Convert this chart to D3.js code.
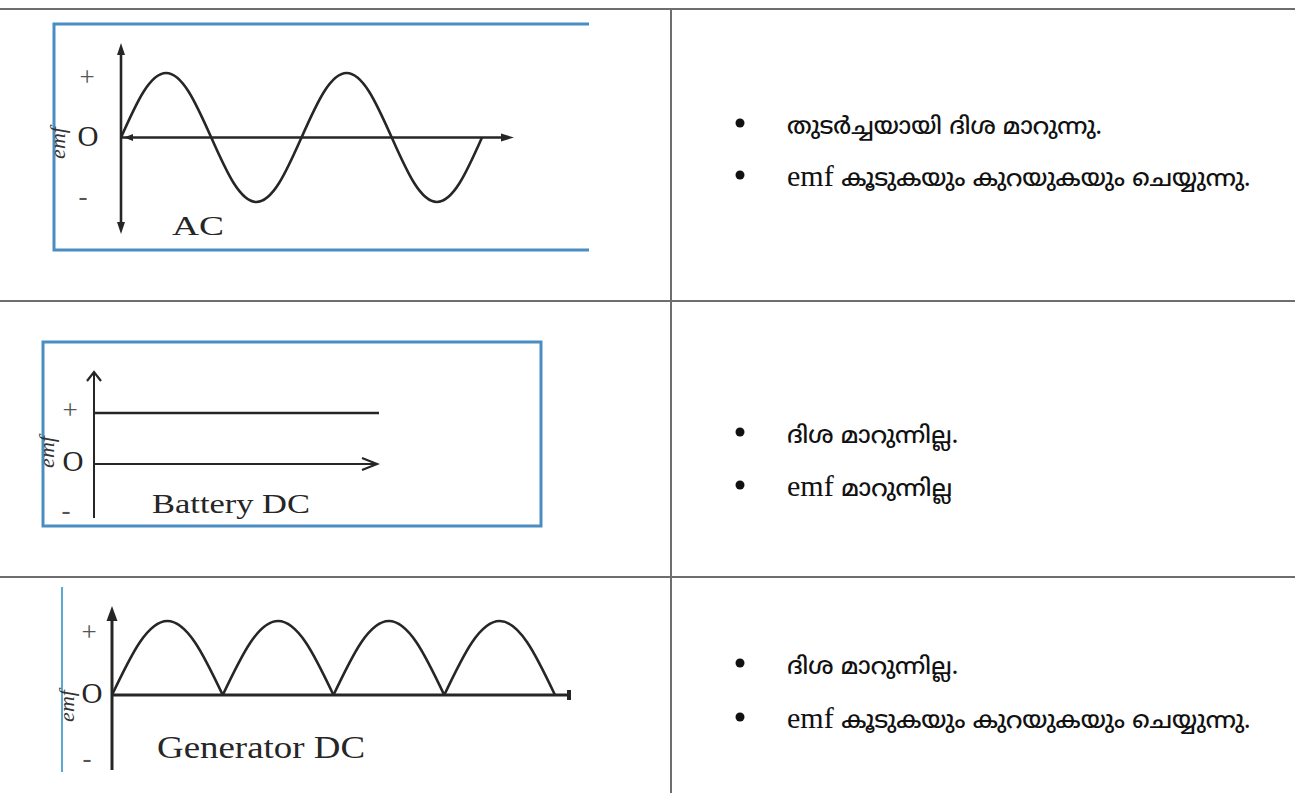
<!DOCTYPE html>
<html>
<head>
<meta charset="utf-8">
<script src="https://cdn.jsdelivr.net/npm/d3@7"></script>
<style>
  html, body { margin: 0; padding: 0; background: #fff; }
  svg { display: block; }
</style>
</head>
<body>
<svg id="chart" width="1295" height="793"></svg>
<script>
// ---- data ----
// emf samples, phase in eighths of a cycle
const acPhase = [0, 1, 2, 3, 4, 5, 6, 7, 8, 9, 10, 11, 12, 13, 14, 15, 16];
const acEmf = [0, 0.71, 1, 0.71, 0, -0.71, -1, -0.71, 0, 0.71, 1, 0.71, 0, -0.71, -1, -0.71, 0];

const batteryPhase = [0, 1];
const batteryEmf = [1, 1];

// rectified output: four humps, phase in eighths of a cycle
const generatorPhase = [0, 1, 2, 3, 4, 5, 6, 7, 8, 9, 10, 11, 12, 13, 14, 15, 16];
const generatorEmf = [0, 0.71, 1, 0.71, 0, 0.71, 1, 0.71, 0, 0.71, 1, 0.71, 0, 0.71, 1, 0.71, 0];
const generatorHumps = [0, 1, 2, 3];

const levelLabels = ["+", "O", "-"];
const panelTitles = ["AC", "Battery DC", "Generator DC"];
const axisTitle = "emf";

const notes = [
  ["തുടർച്ചയായി ദിശ മാറുന്നു.", "emf കൂടുകയും കുറയുകയും ചെയ്യുന്നു."],
  ["ദിശ മാറുന്നില്ല.", "emf മാറുന്നില്ല"],
  ["ദിശ മാറുന്നില്ല.", "emf കൂടുകയും കുറയുകയും ചെയ്യുന്നു."]
];

// ---- drawing ----
const svg = d3.select("#chart");
const ink = "#262626";
const blue = "#4a8dc2";
const serif = "'Liberation Serif', 'Times New Roman', serif";

// table grid
const grid = svg.append("g").attr("stroke", "#6e6e6e").attr("stroke-width", 2);
[9, 301, 577].forEach(y => grid.append("line").attr("x1", 0).attr("x2", 1295).attr("y1", y).attr("y2", y));
grid.append("line").attr("x1", 671).attr("x2", 671).attr("y1", 9).attr("y2", 793);

const line = (x, y) => d3.line().x(d => x(d[0])).y(d => y(d[1]));

function filledHead(g, x, y, dir, w, h) {
  // triangle with its tip at (x,y), pointing in direction dir
  let pts;
  if (dir === "up") pts = [[x, y], [x - w / 2, y + h], [x + w / 2, y + h]];
  if (dir === "down") pts = [[x, y], [x - w / 2, y - h], [x + w / 2, y - h]];
  if (dir === "right") pts = [[x, y], [x - h, y - w / 2], [x - h, y + w / 2]];
  if (dir === "left") pts = [[x, y], [x + h, y - w / 2], [x + h, y + w / 2]];
  g.append("path").attr("d", "M" + pts.join("L") + "Z").attr("fill", ink).attr("stroke", "none");
}
function openHead(g, x, y, dir, w, h) {
  let d;
  if (dir === "up") d = `M${x - w / 2},${y + h}L${x},${y}L${x + w / 2},${y + h}`;
  if (dir === "right") d = `M${x - h},${y - w / 2}L${x},${y}L${x - h},${y + w / 2}`;
  g.append("path").attr("d", d).attr("fill", "none").attr("stroke", ink).attr("stroke-width", 2.2);
}

function labels(g, cfg) {
  const lab = g.append("g").attr("font-family", serif).attr("text-anchor", "middle");
  lab.append("text").attr("x", cfg.plus[0]).attr("y", cfg.plus[1]).attr("dy", "0.35em")
    .attr("font-size", 27).attr("fill", "#555").text(levelLabels[0]);
  lab.append("text").attr("x", cfg.zero[0]).attr("y", cfg.zero[1]).attr("dy", "0.35em")
    .attr("font-size", 29).attr("fill", ink).text(levelLabels[1]);
  lab.append("text").attr("x", cfg.minus[0]).attr("y", cfg.minus[1]).attr("dy", "0.35em")
    .attr("font-size", 27).attr("fill", "#555").text(levelLabels[2]);
  lab.append("text")
    .attr("transform", `translate(${cfg.emf[0]},${cfg.emf[1]}) rotate(-90)`)
    .attr("dy", "0.35em").attr("font-size", 22).attr("font-style", "italic")
    .attr("fill", "#333").text(axisTitle);
  lab.append("text").attr("x", cfg.title[0]).attr("y", cfg.title[1]).attr("text-anchor", "start")
    .attr("font-size", cfg.titleSize).attr("fill", ink)
    .attr("textLength", cfg.titleWidth).attr("lengthAdjust", "spacingAndGlyphs")
    .text(cfg.titleText);
}

// ---- AC panel ----
{
  const g = svg.append("g");
  const x = d3.scaleLinear().domain([0, 16]).range([121, 482]);
  const y = d3.scaleLinear().domain([-1, 1]).range([202, 73]);
  // frame, open on the right
  g.append("path").attr("d", `M589,24H54V250H589`).attr("fill", "none")
    .attr("stroke", blue).attr("stroke-width", 3);
  const ax = g.append("g").attr("stroke", ink).attr("stroke-width", 2.6);
  ax.append("line").attr("x1", x(0)).attr("x2", x(0)).attr("y1", 50).attr("y2", 228);
  ax.append("line").attr("x1", x(0)).attr("x2", 505).attr("y1", y(0)).attr("y2", y(0));
  filledHead(g, x(0), 43, "up", 8, 12);
  filledHead(g, x(0), 234, "down", 8, 12);
  filledHead(g, 514, y(0), "right", 8, 13);
  filledHead(g, x(0) + 3, y(0), "left", 7, 9);
  g.append("path").datum(d3.zip(acPhase, acEmf))
    .attr("d", line(x, y).curve(d3.curveNatural))
    .attr("fill", "none").attr("stroke", ink).attr("stroke-width", 2.6);
  labels(g, { plus: [87, 77], zero: [88, 136], minus: [83, 196], emf: [57, 143],
              title: [172, 235], titleSize: 28, titleWidth: 52, titleText: panelTitles[0] });
}

// ---- Battery DC panel ----
{
  const g = svg.append("g");
  const x = d3.scaleLinear().domain([0, 1]).range([94, 379]);
  const y = d3.scaleLinear().domain([-1, 1]).range([515, 413]);
  g.append("rect").attr("x", 43).attr("y", 342).attr("width", 498).attr("height", 184)
    .attr("fill", "none").attr("stroke", blue).attr("stroke-width", 3);
  const ax = g.append("g").attr("stroke", ink).attr("stroke-width", 2);
  ax.append("line").attr("x1", x(0)).attr("x2", x(0)).attr("y1", 372).attr("y2", 518);
  ax.append("line").attr("x1", x(0)).attr("x2", 377).attr("y1", y(0)).attr("y2", y(0));
  openHead(g, x(0), 372, "up", 14, 9);
  openHead(g, 377, y(0), "right", 12, 15);
  g.append("path").datum(d3.zip(batteryPhase, batteryEmf))
    .attr("d", line(x, y))
    .attr("fill", "none").attr("stroke", ink).attr("stroke-width", 2.6);
  labels(g, { plus: [70, 410], zero: [73, 461], minus: [66, 510], emf: [46, 452],
              title: [152, 513], titleSize: 28, titleWidth: 158, titleText: panelTitles[1] });
}

// ---- Generator DC panel ----
{
  const g = svg.append("g");
  const x = d3.scaleLinear().domain([0, 16]).range([112, 555]);
  const y = d3.scaleLinear().domain([0, 1]).range([695, 621]);
  g.append("line").attr("x1", 62).attr("x2", 62).attr("y1", 587).attr("y2", 772)
    .attr("stroke", "#5aa8d8").attr("stroke-width", 2);
  const ax = g.append("g").attr("stroke", ink).attr("stroke-width", 3);
  ax.append("line").attr("x1", x(0)).attr("x2", x(0)).attr("y1", 615).attr("y2", 770);
  ax.append("line").attr("x1", x(0)).attr("x2", 568).attr("y1", y(0)).attr("y2", y(0));
  filledHead(g, x(0), 606, "up", 11, 15);
  g.append("rect").attr("x", 567).attr("y", y(0) - 5).attr("width", 4).attr("height", 10).attr("fill", ink);
  const pts = d3.zip(generatorPhase, generatorEmf);
  generatorHumps.forEach(h => {
    g.append("path").datum(pts.slice(h * 4, h * 4 + 5))
      .attr("d", line(x, y).curve(d3.curveNatural))
      .attr("fill", "none").attr("stroke", ink).attr("stroke-width", 2.6);
  });
  labels(g, { plus: [89, 632], zero: [92, 693], minus: [87, 758], emf: [66, 706],
              title: [157, 758], titleSize: 31, titleWidth: 208, titleText: panelTitles[2] });
}

// ---- notes column ----
const noteY = [[126, 178], [435, 488], [666, 720]];
const noteFont = "'Noto Sans Malayalam', 'Manjari', 'Rachana', 'Meera', 'Noto Sans', sans-serif";
notes.forEach((pair, r) => {
  pair.forEach((txt, i) => {
    const yy = noteY[r][i];
    svg.append("circle").attr("cx", 740).attr("cy", yy - 3).attr("r", 4.5).attr("fill", "#111");
    const t = svg.append("text").attr("x", 787).attr("y", yy).attr("dy", "0.35em")
      .attr("font-size", 23.5).attr("font-weight", 500).attr("fill", "#111")
      .attr("font-family", noteFont);
    if (txt.startsWith("emf ")) {
      t.append("tspan").attr("font-family", serif).attr("font-weight", 400)
        .attr("font-size", 30).text("emf ");
      t.append("tspan").text(txt.slice(4));
    } else {
      t.text(txt);
    }
  });
});
</script>
</body>
</html>
